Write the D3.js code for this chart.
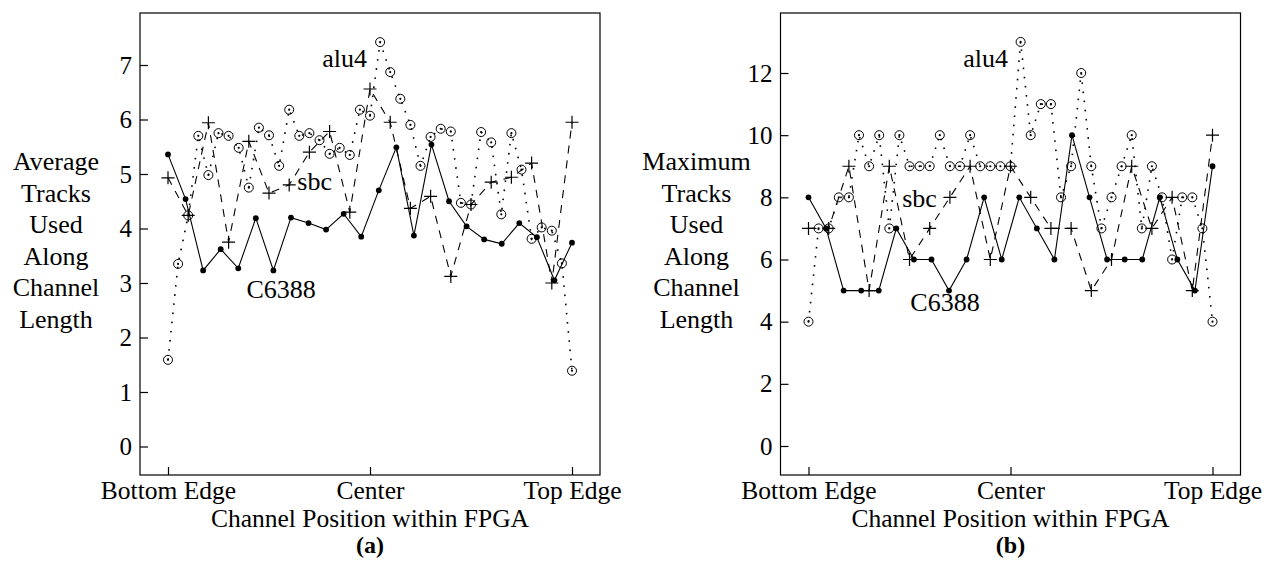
<!DOCTYPE html>
<html>
<head>
<meta charset="utf-8">
<script src="https://cdn.jsdelivr.net/npm/d3@7"></script>
<style>
  body { margin: 0; background: #fff; }
</style>
</head>
<body>
<div id="chart"></div>
<script>
// channel labels along the x axis
var positionLabels = ["Bottom Edge", "Center", "Top Edge"];
var positionTicks = [0, 0.5, 1];

// (a) average tracks used along channel length
var avgTicks = [0, 1, 2, 3, 4, 5, 6, 7];
var avgC6388 = [5.36, 4.54, 3.23, 3.62, 3.27, 4.19, 3.23, 4.20, 4.10, 3.98, 4.27, 3.85,
                4.70, 5.49, 3.87, 5.54, 4.50, 4.04, 3.80, 3.72, 4.10, 3.84, 3.05, 3.74];
var avgSbc = [4.93, 4.24, 5.94, 3.75, 5.60, 4.65, 4.80, 5.40, 5.78, 4.30, 6.56,
              5.95, 4.37, 4.59, 3.12, 4.44, 4.85, 4.94, 5.20, 3.00, 5.95];
var avgAlu4 = [1.59, 3.35, 4.24, 5.70, 4.98, 5.75, 5.70, 5.48, 4.75, 5.85, 5.71,
               5.15, 6.18, 5.70, 5.75, 5.62, 5.37, 5.48, 5.35, 6.18, 6.07, 7.42,
               6.87, 6.38, 5.90, 5.15, 5.68, 5.83, 5.78, 4.47, 4.44, 5.77, 5.58,
               4.26, 5.75, 5.08, 3.81, 4.02, 3.96, 3.36, 1.39];

// (b) maximum tracks used along channel length
var maxTicks = [0, 2, 4, 6, 8, 10, 12];
var maxC6388 = [8, 7, 5, 5, 5, 7, 6, 6, 5, 6, 8, 6, 8, 7, 6, 10, 8, 6, 6, 6, 8, 6, 5, 9];
var maxSbc = [7, 7, 9, 5, 9, 6, 7, 8, 9, 6, 9, 8, 7, 7, 5, 6, 9, 7, 8, 5, 10];
var maxAlu4 = [4, 7, 7, 8, 8, 10, 9, 10, 7, 10, 9, 9, 9, 10, 9, 9, 10, 9, 9, 9, 9,
               13, 10, 11, 11, 8, 9, 12, 9, 7, 8, 9, 10, 7, 9, 8, 6, 8, 8, 7, 4];

var W = 1270, H = 567;
var pw = 460, ph = 462;
var serif = "'Liberation Serif', 'Times New Roman', Times, serif";

var svg = d3.select("#chart").append("svg")
    .attr("width", W)
    .attr("height", H)
    .style("font-family", serif);

// turn a list of values into [fraction of channel, value]
function toPoints(vals) {
  return vals.map(function(v, i) { return [i / (vals.length - 1), v]; });
}

function drawPanel(p) {
  var g = svg.append("g")
      .attr("transform", "translate(" + p.left + "," + p.top + ")");

  var x = d3.scaleLinear().domain([0, 1]).range([28, 432]);
  var y = d3.scaleLinear().domain(p.yDomain).range(p.yRange);

  // frame
  g.append("rect")
      .attr("width", pw).attr("height", ph)
      .attr("fill", "none").attr("stroke", "#000").attr("stroke-width", 1.2);

  // y axis, ticks pointing in
  var ya = g.append("g")
      .call(d3.axisLeft(y).tickValues(p.ticks).tickFormat(d3.format("d"))
        .tickSizeInner(-8).tickSizeOuter(0).tickPadding(8));
  ya.attr("font-family", null).attr("font-size", null);
  ya.select(".domain").remove();
  ya.selectAll("line").attr("stroke", "#000").attr("stroke-width", 1.2);
  ya.selectAll("text").attr("fill", "#000").style("font-family", serif).style("font-size", "25px");

  // x axis
  var xa = g.append("g")
      .attr("transform", "translate(0," + ph + ")")
      .call(d3.axisBottom(x).tickValues(positionTicks)
        .tickFormat(function(d, i) { return positionLabels[i]; })
        .tickSizeInner(-8).tickSizeOuter(0).tickPadding(6));
  xa.attr("font-family", null).attr("font-size", null);
  xa.select(".domain").remove();
  xa.selectAll("line").attr("stroke", "#000").attr("stroke-width", 1.2);
  xa.selectAll("text").attr("fill", "#000").style("font-family", serif).style("font-size", "25.5px");

  var line = d3.line()
      .x(function(d) { return x(d[0]); })
      .y(function(d) { return y(d[1]); });

  var alu = toPoints(p.alu4), sbc = toPoints(p.sbc), c6 = toPoints(p.c6388);

  // alu4: dotted line with dotted circles
  g.append("path").datum(alu)
      .attr("d", line).attr("fill", "none")
      .attr("stroke", "#000").attr("stroke-width", 1.6)
      .attr("stroke-dasharray", "1.6 7.6");
  var circ = g.selectAll(".alu").data(alu).enter().append("g")
      .attr("class", "alu")
      .attr("transform", function(d) { return "translate(" + x(d[0]) + "," + y(d[1]) + ")"; });
  circ.append("circle").attr("r", 4.5).attr("fill", "none").attr("stroke", "#000").attr("stroke-width", 1);
  circ.append("circle").attr("r", 1.1).attr("fill", "#000");

  // sbc: dashed line with plus marks
  g.append("path").datum(sbc)
      .attr("d", line).attr("fill", "none")
      .attr("stroke", "#000").attr("stroke-width", 1.1)
      .attr("stroke-dasharray", "8 7");
  g.selectAll(".sbc").data(sbc).enter().append("path")
      .attr("class", "sbc")
      .attr("d", "M-6.5,0H6.5M0,-6.5V6.5")
      .attr("transform", function(d) { return "translate(" + x(d[0]) + "," + y(d[1]) + ")"; })
      .attr("stroke", "#000").attr("stroke-width", 1.2);

  // C6388: solid line with filled dots
  g.append("path").datum(c6)
      .attr("d", line).attr("fill", "none")
      .attr("stroke", "#000").attr("stroke-width", 1.1);
  g.selectAll(".c6").data(c6).enter().append("circle")
      .attr("class", "c6")
      .attr("cx", function(d) { return x(d[0]); })
      .attr("cy", function(d) { return y(d[1]); })
      .attr("r", 2.9).attr("fill", "#000");

  // series names
  p.names.forEach(function(n) {
    g.append("text")
        .attr("x", x(n.at[0])).attr("y", y(n.at[1]))
        .style("font-size", "26px")
        .text(n.text);
  });

  // y title, stacked words
  var yt = svg.append("text")
      .attr("text-anchor", "middle")
      .style("font-size", "26px");
  p.yTitle.forEach(function(w, i) {
    yt.append("tspan").attr("x", p.left - 84).attr("y", 170 + i * 31.5).text(w);
  });

  // x title and panel tag
  svg.append("text")
      .attr("x", p.left + pw / 2).attr("y", 527)
      .attr("text-anchor", "middle").style("font-size", "25.5px")
      .text("Channel Position within FPGA");
  svg.append("text")
      .attr("x", p.left + pw / 2).attr("y", 553)
      .attr("text-anchor", "middle").style("font-size", "24px").style("font-weight", "bold")
      .text(p.tag);
}

drawPanel({
  left: 140, top: 13,
  yDomain: [0, 7], yRange: [433.5, 52],
  ticks: avgTicks,
  alu4: avgAlu4, sbc: avgSbc, c6388: avgC6388,
  names: [
    {text: "alu4", at: [0.382, 6.97]},
    {text: "sbc", at: [0.32, 4.70]},
    {text: "C6388", at: [0.194, 2.73]}
  ],
  yTitle: ["Average", "Tracks", "Used", "Along", "Channel", "Length"],
  tag: "(a)"
});

drawPanel({
  left: 780.5, top: 13,
  yDomain: [0, 12], yRange: [433, 60],
  ticks: maxTicks,
  alu4: maxAlu4, sbc: maxSbc, c6388: maxC6388,
  names: [
    {text: "alu4", at: [0.383, 12.2]},
    {text: "sbc", at: [0.232, 7.69]},
    {text: "C6388", at: [0.252, 4.34]}
  ],
  yTitle: ["Maximum", "Tracks", "Used", "Along", "Channel", "Length"],
  tag: "(b)"
});
</script>
</body>
</html>
